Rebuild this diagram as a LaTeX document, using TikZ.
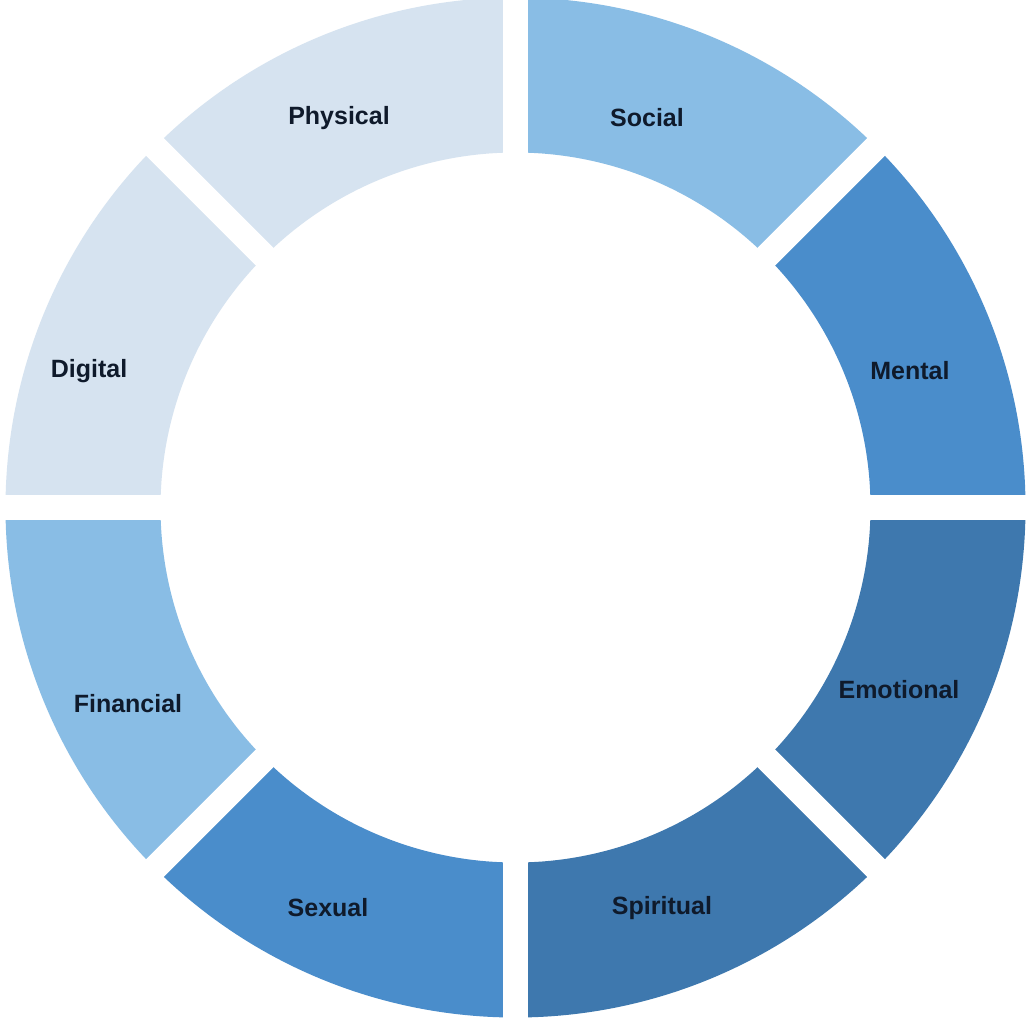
\documentclass[tikz,border=0pt]{standalone}
\usepackage{fontspec}
\setmainfont{Liberation Sans}
\usetikzlibrary{calc}
\definecolor{cPale}{HTML}{D6E3F0}
\definecolor{cLight}{HTML}{89BDE5}
\definecolor{cMid}{HTML}{4A8DCB}
\definecolor{cDark}{HTML}{3E78AE}
\definecolor{cText}{HTML}{0F1A2B}
\tikzset{
  lab/.style={text=cText, font=\bfseries\fontsize{25}{30}\selectfont, inner sep=0pt},
  gapline/.style={white, line width=25pt}
}
\begin{document}
\begin{tikzpicture}[x=1pt,y=1pt]
\useasboundingbox (0,0) rectangle (1026,-1018);
\clip (0,0) rectangle (1026,-1018);
\fill[white] (0,0) rectangle (1026,-1018);
\coordinate (c) at (515.5,-507.5);
\foreach \a/\col in {0/cMid,45/cLight,90/cPale,135/cPale,180/cLight,225/cMid,270/cDark,315/cDark}{
  \fill[\col] (c) ++(\a:510) arc[start angle=\a, delta angle=45, radius=510]
    -- ++(\a+225:155) arc[start angle=\a+45, delta angle=-45, radius=355] -- cycle;
}
\foreach \a in {0,45,90,135}{
  \draw[gapline] ($(c)+(\a:600)$) -- ($(c)+(\a+180:600)$);
}
\node[lab] (physical) at (339,-118) {Physical};
\node[lab] (social) at (647,-118) {Social};
\node[lab] (mental) at (910,-371) {Mental};
\node[lab] (emotional) at (899,-690) {Emotional};
\node[lab] (spiritual) at (662,-908) {Spiritual};
\node[lab] (sexual) at (328,-908) {Sexual};
\node[lab] (financial) at (128,-704) {Financial};
\node[lab] (digital) at (89,-371) {Digital};
\end{tikzpicture}
\end{document}
